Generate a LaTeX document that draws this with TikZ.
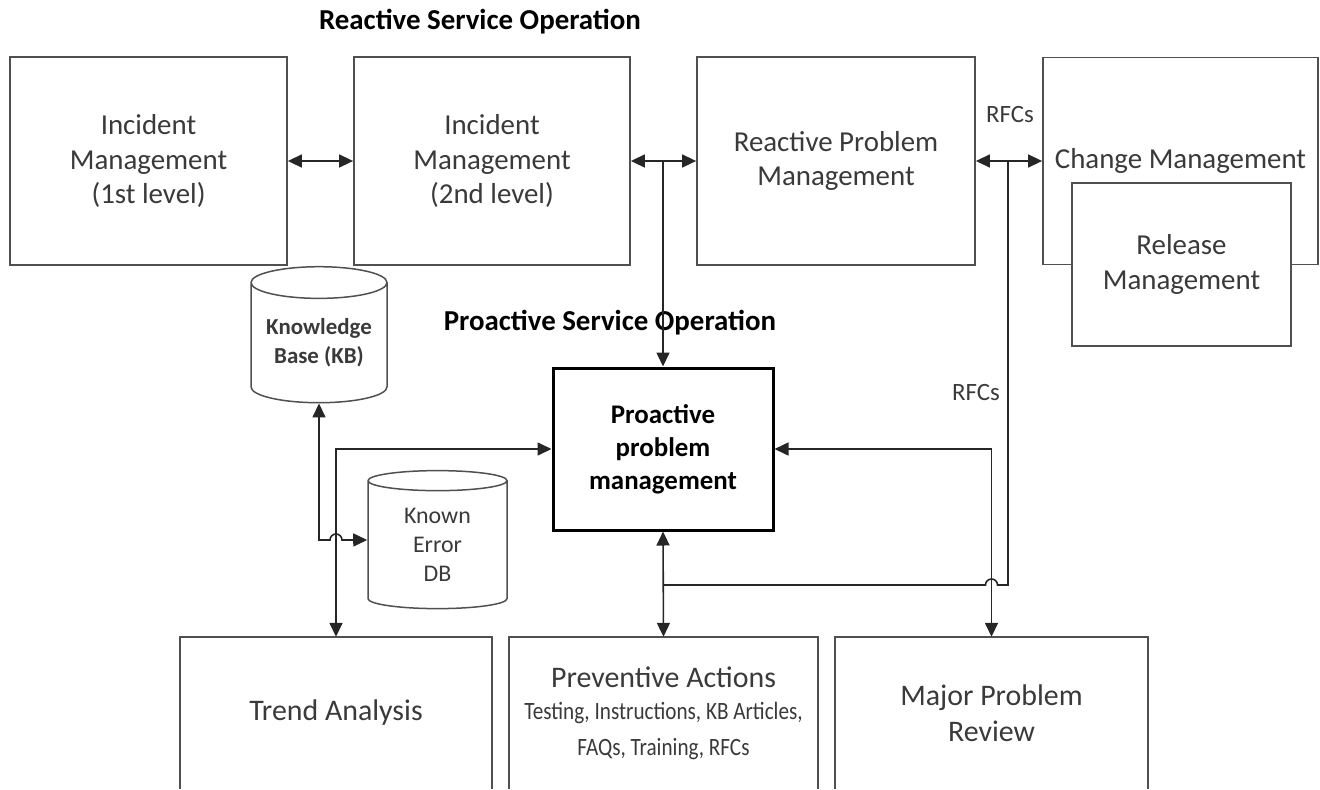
\documentclass[tikz,border=0pt]{standalone}
\usepackage{fontspec}
\setmainfont{Carlito}
\newfontfamily\narrowfont[FakeStretch=0.85]{Carlito}
\usetikzlibrary{positioning, shapes.geometric, arrows.meta}
\definecolor{boxgray}{HTML}{505050}
\definecolor{linegray}{HTML}{262626}
\definecolor{txtgray}{HTML}{3a3a3a}

\begin{document}
\begin{tikzpicture}[x=1bp, y=-1bp,
            >={Triangle[length=14bp, width=13bp]},
            boxnode/.style={rectangle, draw=boxgray, line width=1.8bp, fill=white, text=txtgray, align=center, inner sep=0pt, font=\fontsize{29}{35}\selectfont},
            openbox/.style={rectangle, text=txtgray, align=center, inner sep=0pt, font=\fontsize{30}{36}\selectfont},
            dbnode/.style={cylinder, shape border rotate=90, aspect=0.3, draw=boxgray, line width=1.5bp, fill=white, text=txtgray, align=center, inner sep=0pt, font=\fontsize{24}{29}\selectfont},
            title/.style={text=black, font=\bfseries\fontsize{29}{34}\selectfont},
            link/.style={line width=1.6bp, draw=linegray},
            ]

            \useasboundingbox (0,0) rectangle (1320,789);

            \node[title] (reactive) at (480,22) {Reactive Service Operation};
            \node[title] (proactive) at (610,323) {Proactive Service Operation};

            \node[boxnode, minimum width=277bp, minimum height=208bp] (IM1) at (148.5,161) {Incident\\Management\\(1st level)};
            \node[boxnode, minimum width=276bp, minimum height=208bp] (IM2) at (492,161) {Incident\\Management\\(2nd level)};
            \node[boxnode, minimum width=278bp, minimum height=208bp] (RPM) at (836,161) {Reactive Problem\\Management};
            \node[boxnode, minimum width=275bp, minimum height=207bp] (CM) at (1180.5,161) {Change Management};
            \node[boxnode, minimum width=219bp, minimum height=163bp] (RM) at (1181.5,264.5) {Release\\Management};

            \node[boxnode, draw=black, line width=3bp, text=black, font=\bfseries\fontsize{27}{33}\selectfont, minimum width=220bp, minimum height=162bp] (PPM) at (663,449) {Proactive\\problem\\management};

            \node[dbnode, font=\bfseries\fontsize{23}{29}\selectfont, minimum width=136bp, minimum height=136bp] (KB) at (319,343) {Knowledge\\Base (KB)};
            \node[dbnode, minimum width=139bp, minimum height=138bp] (KE) at (437.5,545) {Known\\Error\\DB};

            \node[openbox, minimum width=312bp, minimum height=152bp] (TA) at (336,713) {Trend Analysis};
            \node[openbox, minimum width=309bp, minimum height=152bp] (PA) at (663.5,713) {Preventive Actions\\[-4bp]{\narrowfont\fontsize{25}{32}\selectfont Testing, Instructions, KB Articles,}\\{\narrowfont\fontsize{25}{28}\selectfont FAQs, Training, RFCs}};
            \node[openbox, minimum width=313bp, minimum height=152bp] (MPR) at (991.5,713) {Major Problem\\Review};
            \foreach \b in {TA, PA, MPR}
                \draw[draw=boxgray, line width=1.8bp] (\b.south west) -- (\b.north west) -- (\b.north east) -- (\b.south east);

            \node[text=txtgray, font=\fontsize{25}{28}\selectfont] (rfcA) at (1010,115) {RFCs};
            \node[text=txtgray, font=\fontsize{25}{28}\selectfont] (rfcB) at (976,393) {RFCs};

            \coordinate (j1) at (663,161);
            \coordinate (j2) at (1008,161);
            \coordinate (j3) at (663,585);

            \draw[<->, link] (IM1.east) -- (IM2.west);
            \draw[<->, link] (IM2.east) -- (RPM.west);
            \draw[<->, link] (RPM.east) -- (CM.west);
            \draw[->, link] (j1) -- (PPM.north);
            \draw[<->, link] (PPM.south) -- (PA.north);
            \draw[<->, link] (PPM.east) -| (MPR.north);
            \draw[<->, link] (PPM.west) -| (TA.north);
            \draw[link] (j3) -- (985.5,585) arc[start angle=180, end angle=360, radius=6] -- (1008,585) -- (j2);
            \draw[<->, link] (KB.south) -- (319,540) -- (330,540) arc[start angle=180, end angle=360, radius=6] -- ([yshift=5bp]KE.west);
        \end{tikzpicture}
\end{document}
